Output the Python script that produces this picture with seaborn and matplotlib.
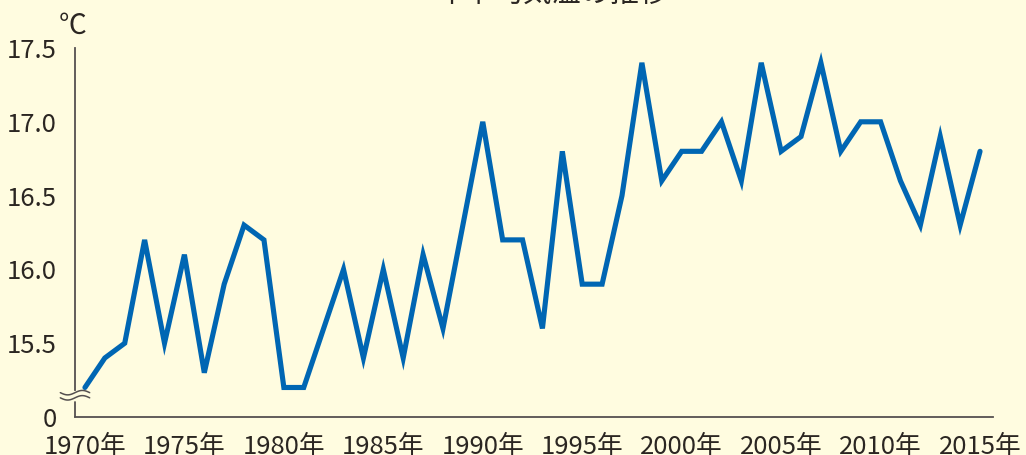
import numpy as np
import pandas as pd
import matplotlib
matplotlib.use('Agg')
import matplotlib.pyplot as plt
import seaborn as sns

# annual mean temperature (°C)
years = list(range(1970, 2016))
temps = [15.2, 15.4, 15.5, 16.2, 15.5, 16.1, 15.3, 15.9, 16.3, 16.2,
         15.2, 15.2, 15.6, 16.0, 15.4, 16.0, 15.4, 16.1, 15.6, 16.3,
         17.0, 16.2, 16.2, 15.6, 16.8, 15.9, 15.9, 16.5, 17.4, 16.6,
         16.8, 16.8, 17.0, 16.6, 17.4, 16.8, 16.9, 17.4, 16.8, 17.0,
         17.0, 16.6, 16.3, 16.9, 16.3, 16.8]
ytick_vals = [15.0, 15.5, 16.0, 16.5, 17.0, 17.5]
ytick_labels = ['0', '15.5', '16.0', '16.5', '17.0', '17.5']
xtick_vals = list(range(1970, 2016, 5))
xtick_labels = [f'{y}年' for y in xtick_vals]

df = pd.DataFrame({'year': years, 'temp': temps})

bg = '#fffce0'
ink = '#2b2622'
blue = '#0066b3'

sns.set_style('white')
plt.rcParams['font.family'] = ['Noto Sans CJK JP', 'DejaVu Sans']

fig = plt.figure(figsize=(10.26, 4.55), dpi=100, facecolor=bg)
ax = fig.add_axes([0.0731, 0.0835, 0.8947, 0.811])
ax.set_facecolor(bg)

sns.lineplot(data=df, x='year', y='temp', color=blue, linewidth=3.7, ax=ax,
             solid_joinstyle='miter')

ax.set_xlim(1969.5, 2015.65)
ax.set_ylim(15.0, 17.5)
ax.set_xticks(xtick_vals)
ax.set_xticklabels(xtick_labels)
ax.set_yticks(ytick_vals)
ax.set_yticklabels(ytick_labels)
ax.set_xlabel('')
ax.set_ylabel('')

for s in ['top', 'right']:
    ax.spines[s].set_visible(False)
for s in ['left', 'bottom']:
    ax.spines[s].set_color('#555050')
    ax.spines[s].set_linewidth(1.3)

ax.tick_params(axis='both', direction='in', length=6, width=1.1, color='#555050',
               labelsize=18.5, labelcolor=ink)
ax.tick_params(axis='y', pad=13)
ax.tick_params(axis='x', pad=12)

# broken-axis mark on the left spine
ax.spines['left'].set_bounds(15.18, 17.5)
ax.plot([0, 0], [15.0, 15.1], transform=ax.get_yaxis_transform(),
        color='#555050', linewidth=1.3, clip_on=False)
wx = np.linspace(-0.016, 0.016, 60)
for off in (-0.007, 0.007):
    wy = 0.059 + off + 0.006 * np.sin(wx / 0.032 * 2 * np.pi)
    ax.plot(wx, wy, transform=ax.transAxes, color='#555050', linewidth=1.1,
            clip_on=False)

fig.text(0.071, 0.943, '℃', fontsize=20, color=ink, ha='center', va='center')
fig.text(0.538, 1.012, '年平均気温の推移', fontsize=21, color=ink,
         ha='center', va='center')

fig.savefig('out.png', dpi=100, facecolor=bg)
